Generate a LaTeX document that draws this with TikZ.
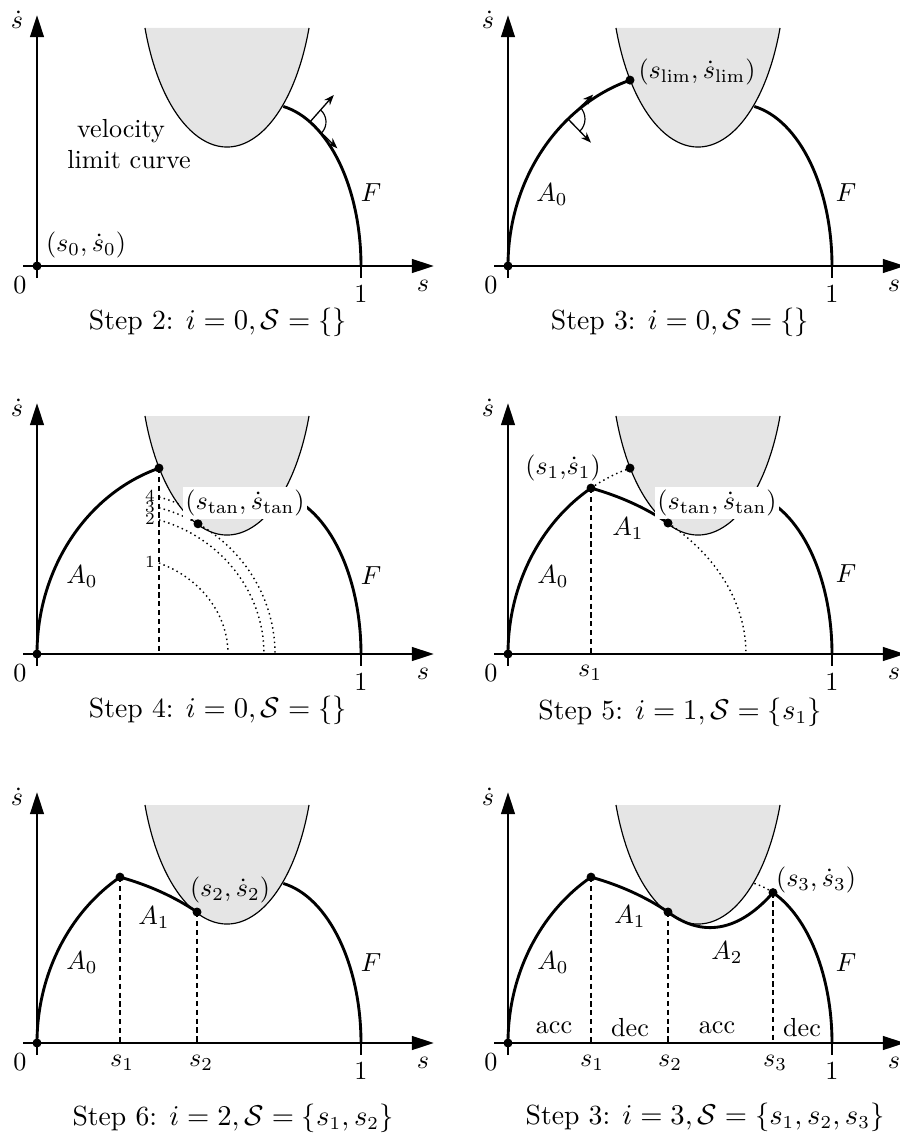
\documentclass[tikz,border=0pt]{standalone}
\usetikzlibrary{arrows.meta}
\begin{document}
\begin{tikzpicture}[x=0.383pt,y=0.383pt,
  every node/.style={inner sep=1pt},
  axisline/.style={line width=1.05pt},
  axarrow/.style={line width=1.05pt,-{Triangle[length=8.5pt,width=5.2pt]}},
  bigcurve/.style={line width=1.1pt},
  thinline/.style={line width=0.45pt},
  dashline/.style={line width=0.5pt,dash pattern=on 2pt off 1.4pt},
  dotline/.style={line width=0.55pt,dash pattern=on 0.55pt off 1.3pt},
  smallarrow/.style={line width=0.5pt,-{Stealth[length=4pt,width=3pt]}},
  whitelab/.style={fill=white,inner sep=1pt},
  numlab/.style={font=\fontsize{6.5}{7}\selectfont,inner sep=0pt},
  caption/.style={font=\fontsize{10.6}{13}\selectfont}
]
\useasboundingbox (0,0) rectangle (899,-1136);

\newcommand\drawaxes{%
  \draw[axarrow] (-14,0) -- (397,0);
  \draw[axarrow] (0,-12) -- (0,251);
  \draw[axisline] (324,0) -- (324,-12);
  \node (zero) at (-17,-19) {$0$};
  \node (one) at (324,-28) {$1$};
  \node (sx) at (386,-20) {$s$};
  \node (sy) at (-20,246) {$\dot s$};
  \fill (0,0) circle[radius=4.5];
}
\newcommand\limitregion{%
  \fill[gray!20] (190,300) ++(200.03:87.3 and 181) arc[start angle=200.03,end angle=339.97,x radius=87.3,y radius=181] -- cycle;
  \draw[thinline] (190,300) ++(200.03:87.3 and 181) arc[start angle=200.03,end angle=339.97,x radius=87.3,y radius=181];
}
\newcommand\fullF{%
  \draw[bigcurve] (230,0) ++(80:94 and 162) arc[start angle=80,end angle=0,x radius=94,y radius=162];
}

% ---------------- Panel 1 (Step 2) ----------------
\begin{scope}[shift={(37,-266)}]
  \limitregion
  \fullF
  \drawaxes
  \coordinate (b1) at (273,144.1);
  \draw[smallarrow] (b1) -- ++(48.5:36);
  \draw[smallarrow] (b1) -- ++(-44:38);
  \draw[thinline] (b1) ++(48.5:16) arc[start angle=48.5,end angle=-41.5,radius=16];
  \node (vel) at (84,135) {velocity};
  \node (lim) at (92,106) {limit curve};
  \node (F1) at (334,73) {$F$};
  \node (s0lab) at (49,21) {$(s_0,\dot s_0)$};
  \node[caption] (cap1) at (181,-56) {Step 2: $i=0,\mathcal{S}=\{\}$};
\end{scope}

% ---------------- Panel 2 (Step 3) ----------------
\begin{scope}[shift={(508,-266)}]
  \limitregion
  \fullF
  \drawaxes
  \draw[bigcurve] (0,0) arc[start angle=180,end angle=107.6,x radius=175,y radius=195];
  \coordinate (b2) at (60,147);
  \draw[smallarrow] (b2) -- ++(44.2:35);
  \draw[smallarrow] (b2) -- ++(-45.8:33);
  \draw[thinline] (b2) ++(44.2:17) arc[start angle=44.2,end angle=-45.8,radius=17];
  \node (A02) at (44,71) {$A_0$};
  \node (F2) at (338,73) {$F$};
  \node (slimlab) at (189,194) {$(s_{\mathrm{lim}},\dot s_{\mathrm{lim}})$};
  \fill (122,185.9) circle[radius=4.5];
  \node[caption] (cap2) at (172,-56) {Step 3: $i=0,\mathcal{S}=\{\}$};
\end{scope}

% ---------------- Panel 3 (Step 4) ----------------
\begin{scope}[shift={(37,-654)}]
  \limitregion
  \fullF
  \drawaxes
  \draw[bigcurve] (0,0) arc[start angle=180,end angle=107.6,x radius=175,y radius=195];
  \draw[dashline] (122,185.9) -- (122,0);
  \draw[dotline] (80,0) ++(67.8:111 and 98.3) arc[start angle=67.8,end angle=0,x radius=111,y radius=98.3];
  \draw[dotline] (80,0) ++(73.4:147 and 139.9) arc[start angle=73.4,end angle=0,x radius=147,y radius=139.9];
  \draw[dotline] (80,0) ++(74.59:158 and 151.7) arc[start angle=74.59,end angle=0,x radius=158,y radius=151.7];
  \draw[dotline] (80,0) ++(74.78:160 and 162.7) arc[start angle=74.78,end angle=67.4,x radius=160,y radius=162.7];
  \node[numlab] (n4) at (113,158) {4};
  \node[numlab] (n3) at (113,147) {3};
  \node[numlab] (n2) at (113,135) {2};
  \node[numlab] (n1) at (113,92) {1};
  \node[whitelab] (stan3) at (208,151) {$(s_{\mathrm{tan}},\dot s_{\mathrm{tan}})$};
  \node (A03) at (45,77) {$A_0$};
  \node (F3) at (334,78) {$F$};
  \fill (122,185.9) circle[radius=4.5];
  \fill (161,130.2) circle[radius=4.5];
  \node[caption] (cap3) at (181,-56) {Step 4: $i=0,\mathcal{S}=\{\}$};
\end{scope}

% ---------------- Panel 4 (Step 5) ----------------
\begin{scope}[shift={(508,-654)}]
  \limitregion
  \fullF
  \drawaxes
  \coordinate (s1) at (83,165.9);
  \coordinate (stan) at (160,131);
  \draw[bigcurve] (0,0) arc[start angle=180,end angle=121.7,x radius=175,y radius=195];
  \draw[dotline] (s1) arc[start angle=121.7,end angle=107.6,x radius=175,y radius=195];
  \draw[bigcurve] (s1) arc[start angle=69.59,end angle=47.76,x radius=238,y radius=177];
  \draw[dotline] (stan) arc[start angle=47.76,end angle=0,x radius=238,y radius=177];
  \draw[dashline] (s1) -- (83,0);
  \node[whitelab] (stan4) at (209,151) {$(s_{\mathrm{tan}},\dot s_{\mathrm{tan}})$};
  \node (s1lab4) at (55,186) {$(s_1{,}\dot s_1)$};
  \node (A04) at (45,77) {$A_0$};
  \node (A14) at (120,125) {$A_1$};
  \node (F4) at (338,80) {$F$};
  \node (s1x4) at (82,-19) {$s_1$};
  \fill (122,185.9) circle[radius=4.5];
  \fill (s1) circle[radius=4.5];
  \fill (stan) circle[radius=4.5];
  \node[caption] (cap4) at (172,-58) {Step 5: $i=1,\mathcal{S}=\{s_1\}$};
\end{scope}

% ---------------- Panel 5 (Step 6) ----------------
\begin{scope}[shift={(37,-1043)}]
  \limitregion
  \fullF
  \drawaxes
  \coordinate (s1) at (83,165.9);
  \coordinate (s2) at (160,131);
  \draw[bigcurve] (0,0) arc[start angle=180,end angle=121.7,x radius=175,y radius=195];
  \draw[bigcurve] (s1) arc[start angle=69.59,end angle=47.76,x radius=238,y radius=177];
  \draw[dashline] (s1) -- (83,0);
  \draw[dashline] (s2) -- (160,0);
  \node (s2lab5) at (193,153) {$(s_2,\dot s_2)$};
  \node (A05) at (45,80) {$A_0$};
  \node (A15) at (117,125) {$A_1$};
  \node (F5) at (334,80) {$F$};
  \node (s1x5) at (85,-20) {$s_1$};
  \node (s2x5) at (164,-20) {$s_2$};
  \fill (s1) circle[radius=4.5];
  \fill (s2) circle[radius=4.5];
  \node[caption] (cap5) at (196,-75) {Step 6: $i=2,\mathcal{S}=\{s_1,s_2\}$};
\end{scope}

% ---------------- Panel 6 (Step 3, final) ----------------
\begin{scope}[shift={(508,-1043)}]
  \limitregion
  \drawaxes
  \coordinate (s1) at (83,165.9);
  \coordinate (s2) at (160,131);
  \coordinate (s3) at (265,150.4);
  \draw[bigcurve] (0,0) arc[start angle=180,end angle=121.7,x radius=175,y radius=195];
  \draw[bigcurve] (s1) arc[start angle=69.59,end angle=47.76,x radius=238,y radius=177];
  \draw[bigcurve] (s2) .. controls (189,109) and (226,106) .. (s3);
  \draw[bigcurve] (s3) arc[start angle=68.14,end angle=0,x radius=94,y radius=162];
  \draw[dotline] (230,0) ++(80:94 and 162) arc[start angle=80,end angle=68.14,x radius=94,y radius=162];
  \draw[dashline] (s1) -- (83,0);
  \draw[dashline] (s2) -- (160,0);
  \draw[dashline] (s3) -- (265,0);
  \node (s3lab6) at (308,163) {$(s_3,\dot s_3)$};
  \node (A06) at (45,80) {$A_0$};
  \node (A16) at (122,126) {$A_1$};
  \node (A26) at (219,90) {$A_2$};
  \node (F6) at (338,80) {$F$};
  \node (acc1) at (46,15) {acc};
  \node (dec1) at (122,15) {dec};
  \node (acc2) at (209,15) {acc};
  \node (dec2) at (294,15) {dec};
  \node (s1x6) at (84,-20) {$s_1$};
  \node (s2x6) at (162,-20) {$s_2$};
  \node (s3x6) at (267,-20) {$s_3$};
  \fill (s1) circle[radius=4.5];
  \fill (s2) circle[radius=4.5];
  \fill (s3) circle[radius=4.5];
  \node[caption] (cap6) at (197,-74) {Step 3: $i=3,\mathcal{S}=\{s_1,s_2,s_3\}$};
\end{scope}
\end{tikzpicture}
\end{document}
